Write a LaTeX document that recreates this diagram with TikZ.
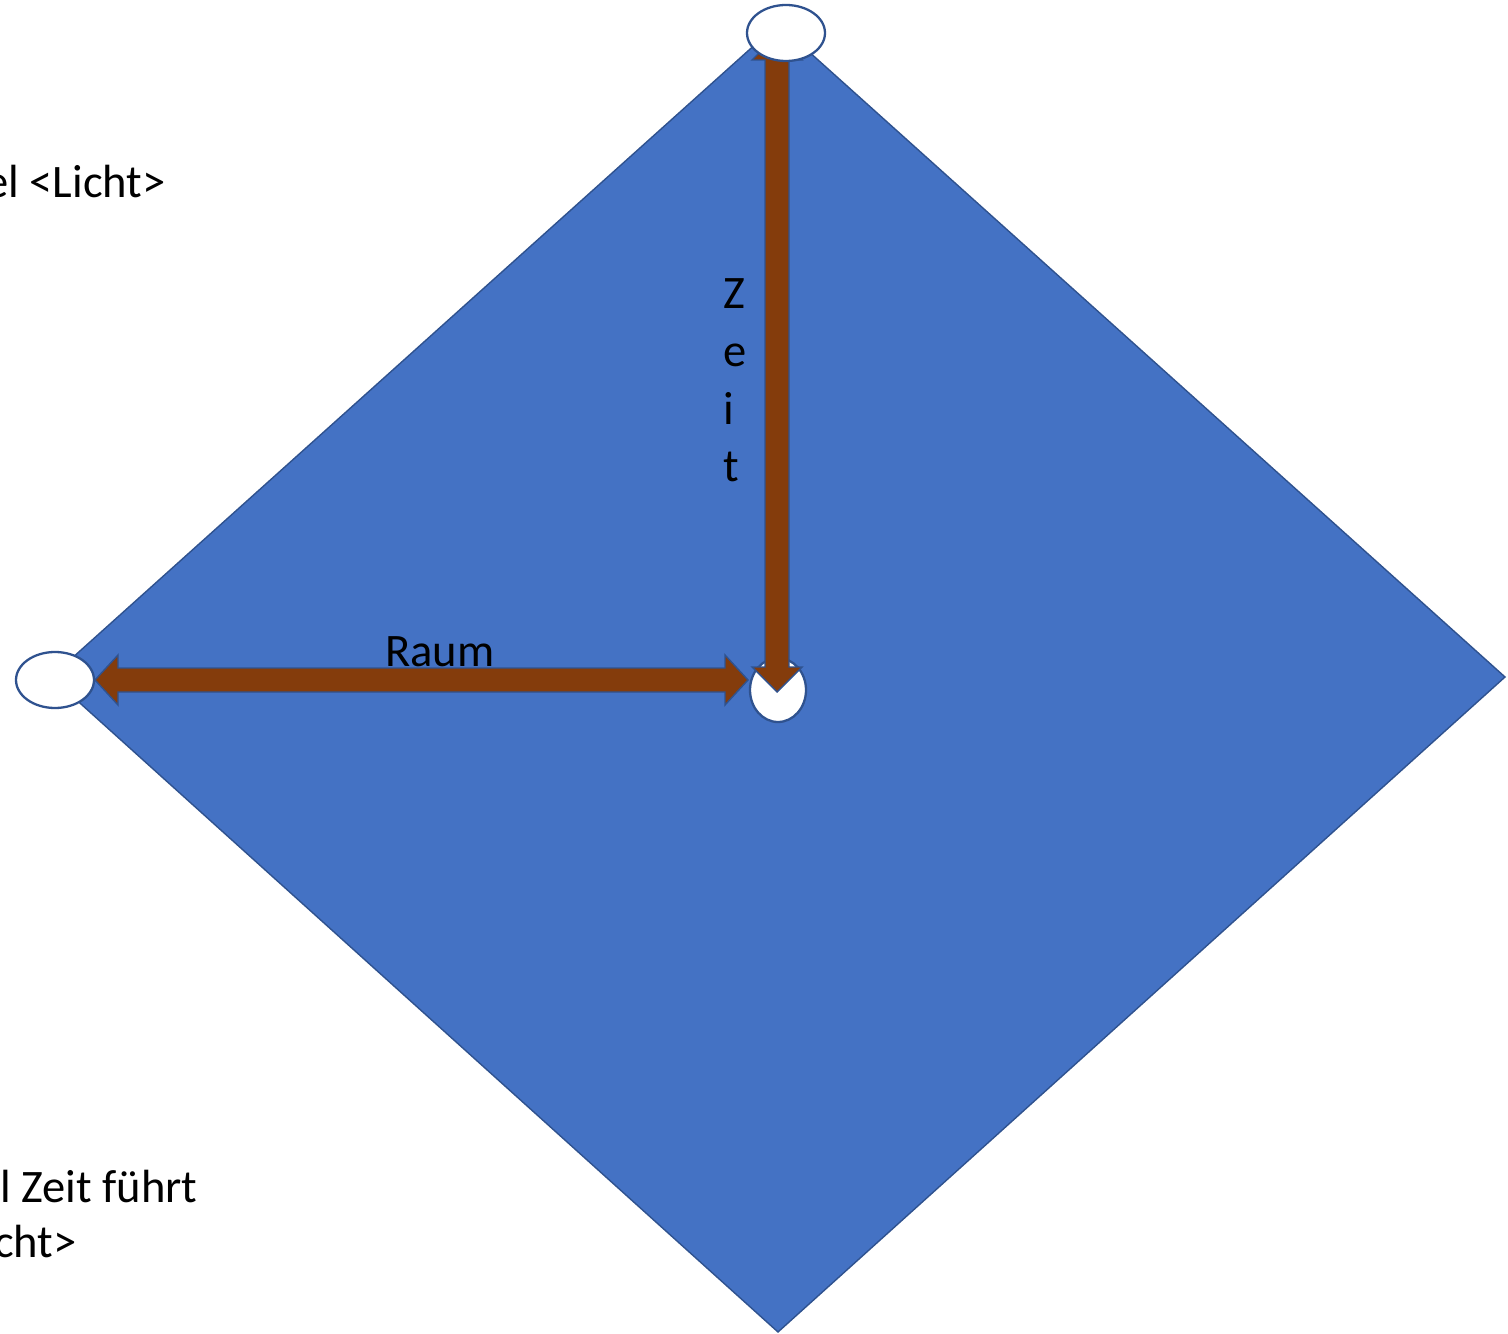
\documentclass[tikz,border=0pt]{standalone}
\usepackage{fontspec}
\setmainfont{Carlito}
\usetikzlibrary{shapes.geometric}
\definecolor{dblue}{HTML}{4472C4}
\definecolor{edgeblue}{HTML}{2F528F}
\definecolor{arrbrown}{HTML}{843C0C}
\begin{document}
\begin{tikzpicture}[x=0.02cm,y=-0.02cm,
  oval/.style={ellipse,draw=edgeblue,line width=1.3pt,fill=white,inner sep=0pt},
  bigarrow/.style={fill=arrbrown,draw=edgeblue,line width=0.8pt,line join=miter},
  lbl/.style={inner sep=0pt,font=\fontsize{26.5}{33}\selectfont}]
\useasboundingbox (0,0) rectangle (1508,1334);
\clip (0,0) rectangle (1508,1334);
% diamond
\draw[fill=dblue,draw=edgeblue,line width=0.8pt]
  (778,24) coordinate (dtop) -- (1505,677) coordinate (dright) -- (778,1332) coordinate (dbottom) -- (51,677) coordinate (dleft) -- cycle;
% centre ellipse (behind arrows)
\node[oval,minimum width=56*0.02cm,minimum height=64*0.02cm] (centre) at (778,690) {};
% vertical double arrow
\path[bigarrow] (777,35) -- (802,60) -- (789,60) -- (789,667) -- (802,667) -- (777,692)
  -- (752,667) -- (765,667) -- (765,60) -- (752,60) -- cycle;
% horizontal double arrow
\path[bigarrow] (95,680) -- (118,655) -- (118,668) -- (725,668) -- (725,655) -- (748,680)
  -- (725,705) -- (725,692) -- (118,692) -- (118,705) -- cycle;
% outer ellipses
\node[oval,minimum width=78*0.02cm,minimum height=56*0.02cm] (top) at (786,33) {};
\node[oval,minimum width=78*0.02cm,minimum height=56*0.02cm] (left) at (55,680) {};
% labels
\node[lbl,anchor=base] (raum) at (440,666) {Raum};
\node[lbl,anchor=base west,align=left] (zeit) at (723,482) {Z\\e\\i\\t};
\node[lbl,anchor=base east] (t1) at (166,198) {el <Licht>};
\node[lbl,anchor=base east] (t2) at (198,1202) {l Zeit führt};
\node[lbl,anchor=base east] (t3) at (77,1257) {cht>};
\end{tikzpicture}
\end{document}
